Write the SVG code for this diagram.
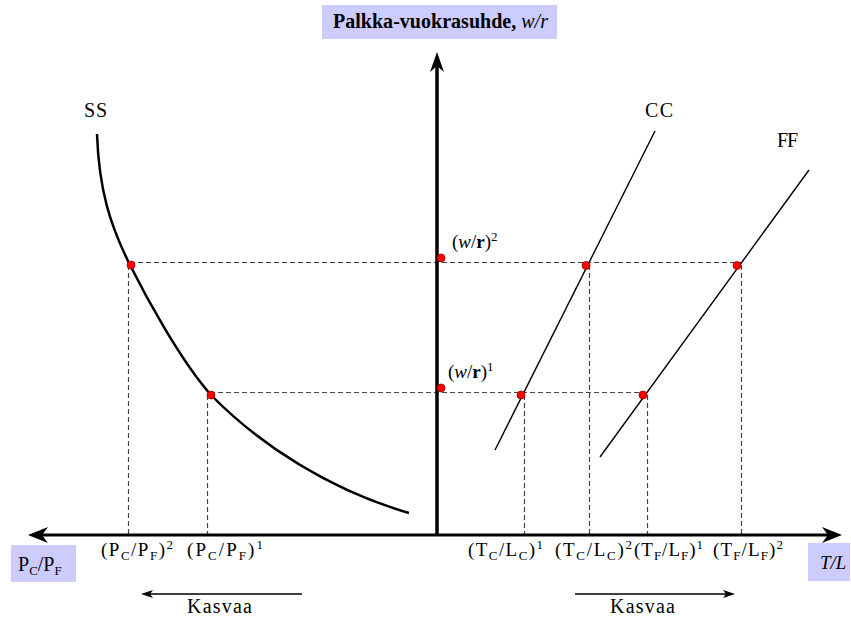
<svg xmlns="http://www.w3.org/2000/svg" width="851" height="619" viewBox="0 0 851 619" font-family="Liberation Serif, DejaVu Serif, Times New Roman, serif">
<style>
.lbl{font-size:19px}
.sub{font-size:13px}
.dash{stroke:#444;stroke-width:1.2;stroke-dasharray:5,3;fill:none}
.dot{fill:#ff0000;stroke:#900;stroke-width:0.8}
.box{fill:#ccccff}
.ln{stroke:#000;fill:none}
</style>
<rect width="851" height="619" fill="#fff"/>
<g id="title">
<rect class="box" x="322" y="5" width="235" height="34"/>
<text x="333" y="28" font-size="20" font-weight="bold" textLength="215">Palkka-vuokrasuhde, <tspan font-style="italic" font-weight="normal">w/r</tspan></text>
</g>
<g id="dashes">
<line class="dash" x1="130" y1="262.5" x2="741" y2="262.5"/>
<line class="dash" x1="210" y1="392.5" x2="647" y2="392.5"/>
<line class="dash" x1="128.5" y1="265" x2="128.5" y2="535"/>
<line class="dash" x1="207.5" y1="395" x2="207.5" y2="535"/>
<line class="dash" x1="524.5" y1="395" x2="524.5" y2="535"/>
<line class="dash" x1="589.5" y1="265" x2="589.5" y2="535"/>
<line class="dash" x1="647.5" y1="395" x2="647.5" y2="535"/>
<line class="dash" x1="741.5" y1="265" x2="741.5" y2="535"/>
</g>
<g id="axes">
<line class="ln" x1="437" y1="66" x2="437" y2="535" stroke-width="3.5"/>
<path d="M437,52 L444,72 L437,66 L430,72 Z" fill="#000"/>
<line class="ln" x1="42" y1="535" x2="828" y2="535" stroke-width="3"/>
<path d="M28,535 L48,527 L42,535 L48,543 Z" fill="#000"/>
<path d="M842,535 L822,527 L828,535 L822,543 Z" fill="#000"/>
</g>
<g id="curves">
<path class="ln" stroke-width="2.5" d="M97,134 C99,190 110,225 130,265 C145,295 180,360 211,395 C260,445 330,490 409,513"/>
<line class="ln" stroke-width="1.4" x1="495" y1="450" x2="655" y2="131"/>
<line class="ln" stroke-width="1.4" x1="600" y1="457" x2="809" y2="170"/>
</g>
<g id="points">
<circle class="dot" cx="131" cy="265" r="4"/>
<circle class="dot" cx="211" cy="395" r="4"/>
<circle class="dot" cx="441" cy="258" r="4"/>
<circle class="dot" cx="441" cy="388" r="4"/>
<circle class="dot" cx="586" cy="265.5" r="4"/>
<circle class="dot" cx="521" cy="395" r="4"/>
<circle class="dot" cx="737" cy="265.5" r="4"/>
<circle class="dot" cx="643" cy="395" r="4"/>
</g>
<g id="curve-labels">
<text x="84" y="117" font-size="20" textLength="23">SS</text>
<text x="645" y="117" font-size="20" textLength="28">CC</text>
<text x="777" y="147" font-size="20" textLength="21">FF</text>
<text x="452" y="248" font-size="19">(<tspan font-style="italic">w</tspan>/<tspan font-weight="bold">r</tspan>)<tspan class="sub" dy="-7">2</tspan></text>
<text x="448" y="378" font-size="19">(<tspan font-style="italic">w</tspan>/<tspan font-weight="bold">r</tspan>)<tspan class="sub" dy="-7">1</tspan></text>
</g>
<g id="axis-labels">
<text class="lbl" x="101" y="556" textLength="72">(P<tspan class="sub" dy="4">C</tspan><tspan dy="-4">/P</tspan><tspan class="sub" dy="4">F</tspan><tspan dy="-4">)</tspan><tspan class="sub" dy="-7">2</tspan></text>
<text class="lbl" x="187" y="556" textLength="76">(P<tspan class="sub" dy="4">C</tspan><tspan dy="-4">/P</tspan><tspan class="sub" dy="4">F</tspan><tspan dy="-4">)</tspan><tspan class="sub" dy="-7">1</tspan></text>
<text class="lbl" x="468" y="556" textLength="75">(T<tspan class="sub" dy="4">C</tspan><tspan dy="-4">/L</tspan><tspan class="sub" dy="4">C</tspan><tspan dy="-4">)</tspan><tspan class="sub" dy="-7">1</tspan></text>
<text class="lbl" x="555" y="556" textLength="77">(T<tspan class="sub" dy="4">C</tspan><tspan dy="-4">/L</tspan><tspan class="sub" dy="4">C</tspan><tspan dy="-4">)</tspan><tspan class="sub" dy="-7">2</tspan></text>
<text class="lbl" x="634" y="556" textLength="69">(T<tspan class="sub" dy="4">F</tspan><tspan dy="-4">/L</tspan><tspan class="sub" dy="4">F</tspan><tspan dy="-4">)</tspan><tspan class="sub" dy="-7">1</tspan></text>
<text class="lbl" x="713" y="556" textLength="70">(T<tspan class="sub" dy="4">F</tspan><tspan dy="-4">/L</tspan><tspan class="sub" dy="4">F</tspan><tspan dy="-4">)</tspan><tspan class="sub" dy="-7">2</tspan></text>
</g>
<g id="axis-titles">
<rect class="box" x="11" y="545" width="65" height="37"/>
<text x="18" y="571" font-size="20">P<tspan class="sub" font-size="14" dy="4">C</tspan><tspan dy="-4">/P</tspan><tspan class="sub" font-size="14" dy="4">F</tspan></text>
<rect class="box" x="808" y="543" width="42" height="38"/>
<text x="820" y="569" font-size="19" font-style="italic">T/L</text>
</g>
<g id="kasvaa">
<line class="ln" stroke-width="1.3" x1="150" y1="594" x2="302" y2="594"/>
<path d="M141,594 L153,590 L150,594 L153,598 Z" fill="#000"/>
<text x="187" y="613" font-size="20" textLength="65">Kasvaa</text>
<line class="ln" stroke-width="1.3" x1="575" y1="594" x2="726" y2="594"/>
<path d="M735,594 L723,590 L726,594 L723,598 Z" fill="#000"/>
<text x="610" y="613" font-size="20" textLength="65">Kasvaa</text>
</g>
</svg>
